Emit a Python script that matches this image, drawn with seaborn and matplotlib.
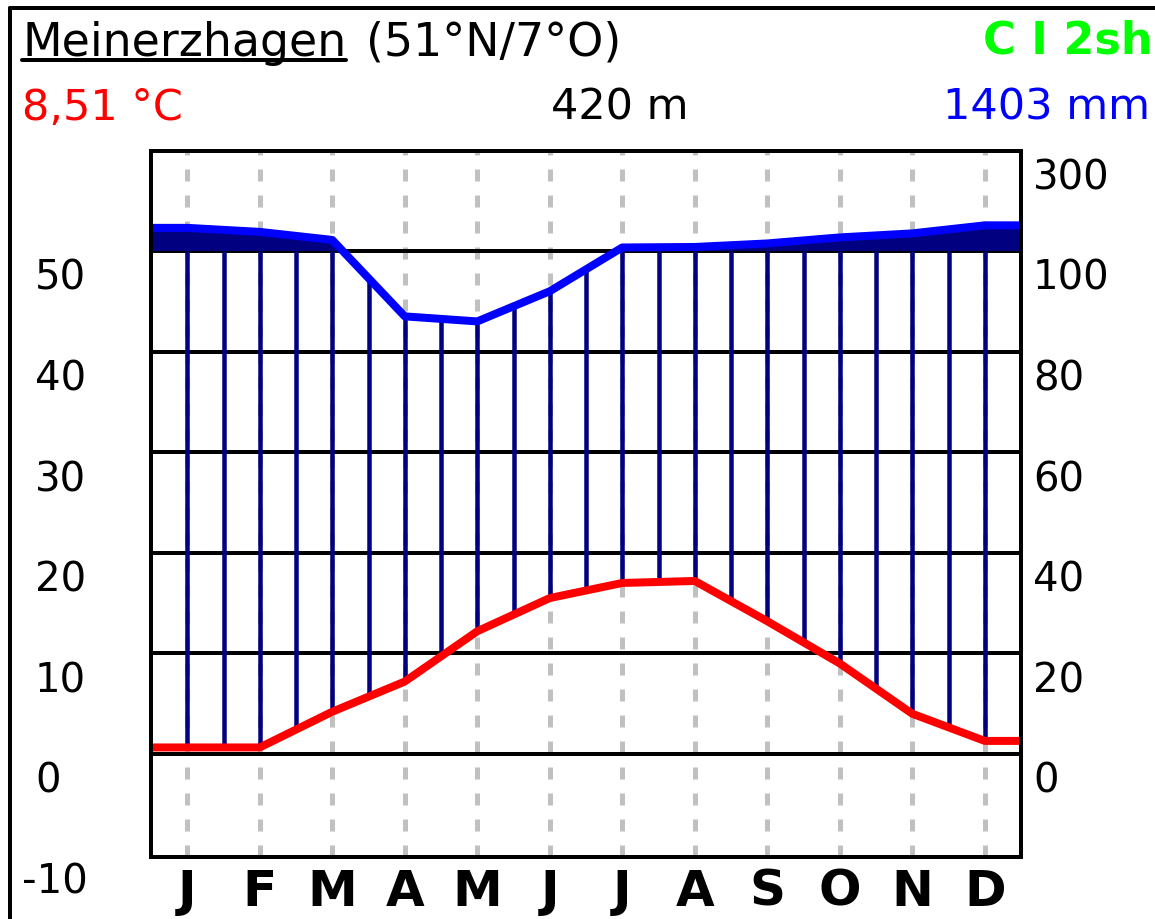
import numpy as np
import pandas as pd
import matplotlib
matplotlib.use('Agg')
import matplotlib.pyplot as plt
import matplotlib.transforms as mtransforms
from matplotlib.lines import Line2D
import seaborn as sns

# Klimadiagramm Meinerzhagen
months = ['J', 'F', 'M', 'A', 'M', 'J', 'J', 'A', 'S', 'O', 'N', 'D']
temp_c = [0.65, 0.65, 4.2, 7.2, 12.2, 15.5, 17.0, 17.2, 13.2, 9.0, 4.0, 1.3]
precip_mm = [146, 138, 122, 87, 86, 92, 107, 108, 115, 127, 135, 151]
left_ticks = [50, 40, 30, 20, 10, 0, -10]
right_ticks = [(300, 60), (100, 50), (80, 40), (60, 30), (40, 20), (20, 10), (0, 0)]

sns.set_style('white')
plt.rcParams['font.family'] = ['DejaVu Sans']

W, H = 1155, 920
fig = plt.figure(figsize=(W / 100, H / 100), dpi=100)
ax = fig.add_axes([151 / W, 1 - 858 / H, 870 / W, (858 - 152) / H])


def px(v):
    # pixel -> points
    return v * 0.72


def p_axis(p):
    # 0-100 mm: 2 mm je Einheit, darueber 20 mm je Einheit
    p = np.asarray(p, dtype=float)
    return np.where(p <= 100, p / 2, 50 + (p - 100) / 20)


idx = np.arange(12)
x_ext = np.concatenate([[-0.5], idx, [11.5]])
t_ext = np.concatenate([[temp_c[0]], temp_c, [temp_c[-1]]])
p_ext = p_axis(np.concatenate([[precip_mm[0]], precip_mm, [precip_mm[-1]]]))

ymin, ymax = -10.24, 59.94
ax.set_xlim(-0.5, 11.5)
ax.set_ylim(ymin, ymax)

# gestrichelte Monatslinien
ax.vlines(idx, ymin, ymax, colors='#c0c0c0', linewidth=px(5),
          linestyles=(0, (2.4, 2.8)), zorder=1)
# horizontale Linien
for v in range(0, 60, 10):
    ax.axhline(v, color='black', linewidth=px(4), zorder=2)

# humide Schraffur
hx = np.arange(0, 11.01, 0.5)
t_h = np.interp(hx, idx, temp_c)
p_h = np.interp(hx, idx, p_axis(precip_mm))
ax.vlines(hx, t_h, np.minimum(p_h, 50), colors='#000080', linewidth=px(4.5), zorder=3)

# perhumide Flaeche
ax.fill_between(x_ext, 50, p_ext, where=p_ext >= 50, interpolate=True,
                color='#000080', linewidth=0, zorder=3)

df = pd.DataFrame({'x': x_ext, 'temp': t_ext, 'prec': p_ext})
sns.lineplot(data=df, x='x', y='prec', color='#0000ff', linewidth=px(8), ax=ax, zorder=4)
sns.lineplot(data=df, x='x', y='temp', color='#ff0000', linewidth=px(8), ax=ax, zorder=5)

for s in ax.spines.values():
    s.set_visible(True)
    s.set_color('black')
    s.set_linewidth(px(4))
    s.set_zorder(6)

ax.set_xlabel('')
ax.set_ylabel('')
ax.set_yticks([])
ax.set_xticks([])

# Monatsbuchstaben
for i, m in enumerate(months):
    ax.text(i, (858 - 906) / 706, m, transform=ax.get_xaxis_transform(),
            ha='center', va='baseline', fontsize=36, fontweight='bold',
            color='black')

# Achsenbeschriftung (unter der Linie)
trans = mtransforms.offset_copy(ax.transData, fig=fig, x=0, y=-27, units='dots')
for v in left_ticks:
    xpos = 22 if v < 0 else 35
    ax.text((xpos - 151) / 870 * 12 - 0.5, v, str(v), transform=trans,
            ha='left', va='center', fontsize=29, color='black')
for lab, v in right_ticks:
    ax.text((1033 - 151) / 870 * 12 - 0.5, v, str(lab), transform=trans,
            ha='left', va='center', fontsize=29, color='black')

# Kopfzeilen
t1 = fig.text(22 / W, 1 - 56 / H, 'Meinerzhagen', fontsize=33, color='black',
              ha='left', va='baseline')
fig.text(366 / W, 1 - 56 / H, '(51°N/7°O)', fontsize=33, color='black',
         ha='left', va='baseline')
fig.text(1153 / W, 1 - 54 / H, 'C I 2sh', fontsize=32, fontweight='bold',
         color='#00ff00', ha='right', va='baseline')
fig.text(22 / W, 1 - 120 / H, '8,51 °C', fontsize=31, color='#ff0000',
         ha='left', va='baseline')
fig.text(620 / W, 1 - 120 / H, '420 m', fontsize=31, color='black',
         ha='center', va='baseline')
fig.text(1150 / W, 1 - 120 / H, '1403 mm', fontsize=31, color='#0000ff',
         ha='right', va='baseline')

fig.canvas.draw()
bb = t1.get_window_extent()
fig.add_artist(Line2D([bb.x0 / W, bb.x1 / W], [1 - 61 / H, 1 - 61 / H],
                      color='black', linewidth=px(4)))

# Rahmen oben / links
fig.add_artist(Line2D([10 / W, 1], [1 - 9 / H, 1 - 9 / H], color='black', linewidth=px(4)))
fig.add_artist(Line2D([10 / W, 10 / W], [0, 1 - 9 / H], color='black', linewidth=px(4)))

fig.savefig('out.png', dpi=100, facecolor='white')
